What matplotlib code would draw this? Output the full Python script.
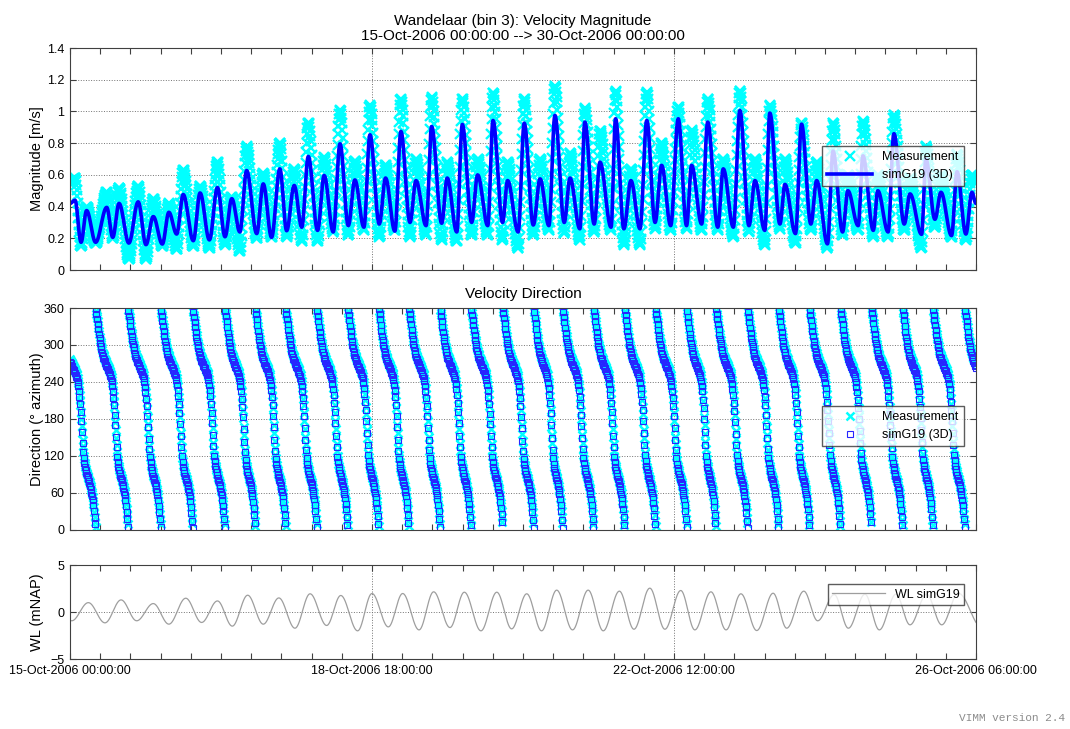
import numpy as np
import matplotlib
matplotlib.use("Agg")
import matplotlib.pyplot as plt
from matplotlib.ticker import FixedLocator, MultipleLocator, FuncFormatter

plt.rcParams['font.family'] = ['Liberation Sans', 'DejaVu Sans']

# ---- data (hours since start of record) ----
# velocity magnitude: times of successive extrema (trough / peak)
mag_hours = [0.0, 2.0, 4.4, 6.6, 10.2, 14.6, 17.0, 19.5, 23.4, 27.1, 30.2, 33.1, 36.7, 39.3,
             42.4, 45.0, 49.0, 51.7, 55.4, 58.6, 61.6, 64.3, 67.5, 70.2, 74.2, 76.8, 80.1,
             83.4, 86.1, 89.1, 92.1, 94.7, 98.4, 101.0, 104.6, 107.3, 110.6, 113.2, 116.8,
             119.2, 122.9, 125.4, 129.1, 131.5, 135.1, 137.5, 141.5, 143.7, 147.7, 149.9,
             153.7, 155.9, 159.6, 162.0, 166.0, 168.1, 171.9, 173.9, 178.1, 180.5, 184.1,
             186.8, 190.3, 192.7, 196.4, 198.7, 202.6, 204.6, 208.3, 210.6, 215.0, 216.8,
             220.1, 222.9, 226.5, 229.2, 232.5, 235.1, 238.7, 241.7, 245.0, 247.0, 251.0,
             253.4, 257.4, 259.6, 263.6, 266.2, 269.8, 272.2, 276.1, 278.1, 282.1, 284.1,
             288.3, 290.7, 294.4, 296.7, 301.0, 303.2, 307.0, 309.1, 313.2, 315.1, 319.2,
             321.0, 325.1, 327.4, 331.5, 333.8, 338.4, 340.1, 343.7, 346.1, 350.3, 352.5,
             356.0, 358.4, 360.0]
sim_mag = [0.42, 0.44, 0.175, 0.375, 0.175, 0.395, 0.206, 0.42, 0.17, 0.43, 0.16, 0.337, 0.164,
           0.364, 0.227, 0.476, 0.185, 0.486, 0.19, 0.52, 0.21, 0.45, 0.24, 0.627, 0.23, 0.543,
           0.206, 0.638, 0.248, 0.533, 0.27, 0.716, 0.25, 0.596, 0.24, 0.796, 0.28, 0.568, 0.27,
           0.853, 0.29, 0.58, 0.245, 0.874, 0.30, 0.564, 0.28, 0.905, 0.295, 0.58, 0.24, 0.918,
           0.30, 0.60, 0.28, 0.943, 0.30, 0.564, 0.24, 0.926, 0.284, 0.575, 0.28, 0.975, 0.30,
           0.58, 0.26, 0.933, 0.29, 0.68, 0.27, 0.954, 0.26, 0.564, 0.26, 0.943, 0.30, 0.66,
           0.28, 0.954, 0.28, 0.66, 0.29, 0.933, 0.27, 0.638, 0.27, 1.006, 0.28, 0.564, 0.25,
           0.99, 0.29, 0.54, 0.23, 0.92, 0.29, 0.564, 0.165, 0.75, 0.24, 0.50, 0.28, 0.72, 0.25,
           0.50, 0.24, 0.86, 0.29, 0.48, 0.225, 0.70, 0.32, 0.49, 0.217, 0.62, 0.227, 0.49, 0.42]
meas_mag = [0.56, 0.58, 0.15, 0.40, 0.17, 0.49, 0.20, 0.52, 0.07, 0.53, 0.07, 0.45, 0.15, 0.42,
            0.13, 0.63, 0.15, 0.53, 0.14, 0.68, 0.16, 0.46, 0.12, 0.78, 0.20, 0.61, 0.21, 0.80,
            0.21, 0.64, 0.18, 0.93, 0.18, 0.71, 0.24, 1.01, 0.22, 0.69, 0.25, 1.04, 0.21, 0.66,
            0.25, 1.08, 0.21, 0.70, 0.22, 1.09, 0.19, 0.68, 0.18, 1.08, 0.22, 0.70, 0.22, 1.12,
            0.19, 0.68, 0.14, 1.08, 0.22, 0.70, 0.25, 1.16, 0.23, 0.74, 0.19, 1.02, 0.24, 0.88,
            0.25, 1.13, 0.16, 0.64, 0.16, 1.12, 0.26, 0.80, 0.25, 1.03, 0.26, 0.88, 0.25, 1.08,
            0.25, 0.70, 0.21, 1.13, 0.24, 0.70, 0.16, 1.04, 0.26, 0.70, 0.17, 0.93, 0.25, 0.68,
            0.14, 0.93, 0.22, 0.60, 0.25, 0.94, 0.21, 0.60, 0.21, 0.98, 0.25, 0.58, 0.14, 0.78,
            0.27, 0.60, 0.21, 0.73, 0.19, 0.60, 0.55]

# velocity direction: times where the direction wraps from 0 to 360 deg
wrap_hours = [-4.0, 10.2, 23.1, 36.1, 48.8, 61.6, 73.7, 85.7, 98.1, 110.4, 122.7, 134.7, 147.1,
              159.4, 172.0, 184.3, 195.8, 208.1, 220.4, 232.7, 245.1, 256.7, 269.3, 281.6,
              293.9, 306.2, 318.5, 330.9, 342.9, 355.6, 368.0]
# direction over one tidal cycle (fraction of cycle -> degrees)
cycle_phase = [0.00, 0.05, 0.10, 0.15, 0.22, 0.30, 0.40, 0.48, 0.53, 0.57, 0.60, 0.63, 0.66,
               0.70, 0.76, 0.83, 0.90, 0.95, 1.00]
sim_dir_cycle = [360, 340, 318, 300, 282, 270, 258, 245, 225, 200, 175, 145, 120, 103, 88, 75,
                 55, 32, 0]
meas_dir_cycle = [358, 343, 323, 305, 287, 275, 263, 251, 233, 207, 179, 150, 124, 106, 91,
                  78, 60, 37, 4]

# water level: high and low water times / levels
hw_hours = [-5.5, 7.3, 20.3, 33.1, 46.0, 58.6, 70.6, 83.0, 95.4, 107.6, 120.0, 132.2, 144.5,
            156.7, 169.6, 181.5, 193.4, 205.9, 218.3, 230.4, 242.7, 254.7, 266.6, 279.4,
            291.6, 303.7, 315.9, 328.2, 340.4, 353.0]
hw_level = [0.9, 1.0, 1.29, 0.9, 1.47, 1.18, 1.79, 1.5, 1.94, 1.76, 1.97, 1.97, 2.15, 2.11,
            2.11, 1.94, 2.33, 2.33, 2.22, 2.54, 2.29, 2.15, 1.94, 2.0, 2.22, 1.86, 1.9, 1.9,
            1.9, 2.0]
lw_hours = [0.7, 13.9, 26.5, 39.3, 52.3, 64.5, 76.8, 89.4, 102.0, 114.3, 126.5, 138.7, 151.0,
            163.3, 175.5, 187.4, 199.7, 211.9, 224.1, 236.4, 248.3, 260.7, 272.9, 284.8,
            297.1, 309.3, 321.6, 333.8, 346.4, 362.5]
lw_level = [-0.93, -1.15, -0.93, -1.29, -1.11, -1.5, -1.29, -1.72, -1.43, -2.0, -1.58, -1.9,
            -1.65, -2.0, -1.79, -2.0, -1.9, -2.0, -1.83, -1.83, -1.9, -1.9, -1.97, -1.72,
            -0.93, -1.72, -1.9, -1.36, -1.36, -1.7]

xtick_hours = [0, 120, 240, 360]
xtick_labels = ['15-Oct-2006 00:00:00', '18-Oct-2006 18:00:00',
                '22-Oct-2006 12:00:00', '26-Oct-2006 06:00:00']


def smooth_between(tk, vk, t):
    # half-cosine easing between successive extrema
    tk = np.asarray(tk, float)
    vk = np.asarray(vk, float)
    i = np.clip(np.searchsorted(tk, t, side='right') - 1, 0, len(tk) - 2)
    s = np.clip((t - tk[i]) / (tk[i + 1] - tk[i]), 0, 1)
    w = 0.5 * (1 - np.cos(np.pi * s))
    return vk[i] + (vk[i + 1] - vk[i]) * w


def direction(t, shape):
    wr = np.asarray(wrap_hours, float)
    i = np.clip(np.searchsorted(wr, t, side='right') - 1, 0, len(wr) - 2)
    ph = (t - wr[i]) / (wr[i + 1] - wr[i])
    return np.interp(ph, cycle_phase, shape)


t_line = np.arange(0, 360.001, 1 / 12.)
t_obs = np.arange(0, 360.001, 1 / 6.)
t_sim = np.arange(0, 360.001, 1 / 4.)

fig = plt.figure(figsize=(10.7, 7.29), dpi=100)
ax1 = fig.add_axes([0.0654, 0.6296, 0.8467, 0.3045])
ax2 = fig.add_axes([0.0654, 0.2730, 0.8467, 0.3045])
ax3 = fig.add_axes([0.0654, 0.0960, 0.8467, 0.1289])

fs = 9

# magnitude
ax1.plot(t_obs, smooth_between(mag_hours, meas_mag, t_obs), 'x', color=(0, 1, 1),
         ms=6.5, mew=1.7, label='Measurement')
ax1.plot(t_line, smooth_between(mag_hours, sim_mag, t_line), '-', color=(0, 0, 1),
         lw=2.6, label='simG19 (3D)')
ax1.set_ylim(0, 1.4)
ax1.yaxis.set_major_locator(MultipleLocator(0.2))
ax1.yaxis.set_major_formatter(FuncFormatter(lambda v, p: '%g' % round(v, 2)))
ax1.set_ylabel('Magnitude [m/s]', fontsize=10.5)
ax1.set_title('Wandelaar (bin 3): Velocity Magnitude\n15-Oct-2006 00:00:00 --> 30-Oct-2006 00:00:00',
              fontsize=11, pad=6, linespacing=1.05)
ax1.legend(loc='upper right', bbox_to_anchor=(0.9934, 0.586), fontsize=fs, frameon=True,
           fancybox=False, edgecolor='0.2', handlelength=3.6, borderpad=0.4, labelspacing=0.5)

# direction
ax2.plot(t_obs, direction(t_obs, meas_dir_cycle), 'x', color=(0, 1, 1),
         ms=6, mew=1.8, label='Measurement')
ax2.plot(t_sim, direction(t_sim, sim_dir_cycle), 's', mfc='none', mec=(0.15, 0.15, 1),
         ms=4.5, mew=0.8, label='simG19 (3D)')
ax2.set_ylim(0, 360)
ax2.yaxis.set_major_locator(MultipleLocator(60))
ax2.set_ylabel('Direction (\u00b0 azimuth)', fontsize=10.5)
ax2.set_title('Velocity Direction', fontsize=11, pad=7)
ax2.legend(loc='upper right', bbox_to_anchor=(0.9934, 0.586), fontsize=fs, frameon=True,
           fancybox=False, edgecolor='0.2', handlelength=3.6, borderpad=0.4, labelspacing=0.5)

# water level
wl_t = np.concatenate([hw_hours, lw_hours])
wl_v = np.concatenate([hw_level, lw_level])
order = np.argsort(wl_t)
ax3.plot(t_line, smooth_between(wl_t[order], wl_v[order], t_line), '-', color='0.62',
         lw=0.9, label='WL simG19')
ax3.set_ylim(-5, 5)
ax3.yaxis.set_major_locator(FixedLocator([-5, 0, 5]))
ax3.set_ylabel('WL (mNAP)', fontsize=10.5)
ax3.legend(loc='upper right', bbox_to_anchor=(0.9934, 0.862), fontsize=fs, frameon=True,
           fancybox=False, edgecolor='0.2', handlelength=4.2, borderpad=0.35)

for ax in (ax1, ax2, ax3):
    ax.set_xlim(0, 360)
    ax.xaxis.set_major_locator(FixedLocator(xtick_hours))
    ax.xaxis.set_minor_locator(MultipleLocator(12))
    ax.tick_params(which='both', direction='in', top=True, right=True, length=4,
                   width=0.8, color='0.25', labelsize=fs, pad=4)
    ax.grid(True, which='major', linestyle=':', color='0.45', linewidth=0.7)
    for sp in ax.spines.values():
        sp.set_color('0.25')
        sp.set_linewidth(0.8)
    ax.yaxis.set_label_coords(-0.029, 0.5)
    if ax is ax3:
        ax.set_xticklabels(xtick_labels)
    else:
        ax.set_xticklabels([])

fig.text(0.9953, 0.015, 'VIMM version 2.4', ha='right', va='center',
         family='Liberation Mono', fontsize=8, color='0.55')

fig.savefig('out.png', dpi=100)
